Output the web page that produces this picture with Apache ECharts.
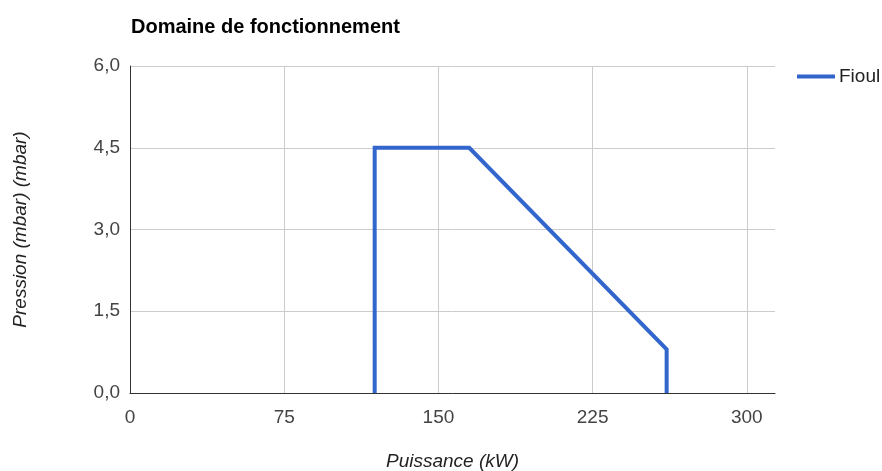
<!DOCTYPE html>
<html>
<head>
<meta charset="utf-8">
<script src="https://cdn.jsdelivr.net/npm/echarts@6/dist/echarts.min.js"></script>
<style>
    html, body { margin: 0; padding: 0; background: #fff; }
    #chart { width: 882px; height: 471px; }
</style>
</head>
<body>
<div id="chart"></div>
<script>
// données
const puissance = [119, 119, 165, 261, 261]
const pression = [0, 4.5, 4.5, 0.8, 0]
const xTicks = [0, 75, 150, 225, 300]
const yTicks = [0, 1.5, 3, 4.5, 6]

const FONT = 'Liberation Sans, Arial, sans-serif'

const chart = echarts.init(document.getElementById('chart'))

const option = {
    animation: false,
    title: {
        text: 'Domaine de fonctionnement',
        left: 126,
        top: 12,
        textStyle: { fontFamily: FONT, fontSize: 20, fontWeight: 'bold', color: '#000' }
    },
    legend: {
        left: 792,
        top: 62,
        icon: 'rect',
        itemWidth: 38,
        itemHeight: 4,
        itemGap: 6,
        textStyle: { fontFamily: FONT, fontSize: 19, color: '#222', padding: [0, 0, 0, -1] },
        data: ['Fioul']
    },
    grid: { left: 130, right: 107, top: 66, bottom: 78, containLabel: false, outerBoundsMode: 'none' },
    xAxis: {
        type: 'value',
        min: 0,
        max: 313.7,
        interval: 75,
        name: 'Puissance (kW)',
        nameLocation: 'middle',
        nameGap: 59,
        nameTextStyle: { fontFamily: FONT, fontSize: 19, fontStyle: 'italic', color: '#222' },
        axisLine: { show: true, lineStyle: { color: '#333', width: 1 } },
        axisTick: { show: false },
        axisLabel: {
            fontFamily: FONT, fontSize: 19, color: '#444', margin: 15,
            showMaxLabel: false,
            formatter: v => xTicks.includes(v) ? String(v) : ''
        },
        splitLine: { show: true, showMaxLine: false, lineStyle: { color: '#ccc', width: 1 } }
    },
    yAxis: {
        type: 'value',
        min: 0,
        max: 6,
        interval: 1.5,
        name: 'Pression (mbar) (mbar)',
        nameLocation: 'middle',
        nameRotate: 90,
        nameGap: 100,
        nameTextStyle: { fontFamily: FONT, fontSize: 19, fontStyle: 'italic', color: '#222' },
        axisLine: { show: true, lineStyle: { color: '#333', width: 1 } },
        axisTick: { show: false },
        axisLabel: {
            fontFamily: FONT, fontSize: 19, color: '#444', margin: 10,
            formatter: v => yTicks.includes(v) ? v.toFixed(1).replace('.', ',') : ''
        },
        splitLine: { show: true, lineStyle: { color: '#ccc', width: 1 } }
    },
    series: [{
        name: 'Fioul',
        type: 'line',
        data: puissance.map((x, i) => [x, pression[i]]),
        symbol: 'none',
        color: '#3366cc',
        lineStyle: { width: 4, color: '#3366cc', join: 'miter', cap: 'butt' }
    }]
}

chart.setOption(option)
</script>
</body>
</html>
